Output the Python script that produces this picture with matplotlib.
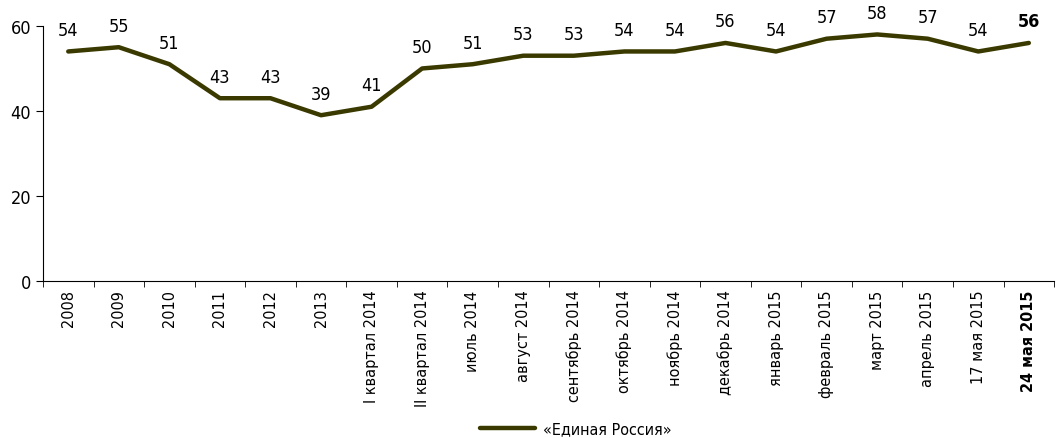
import matplotlib.pyplot as plt
import numpy as np

categories = ['2008', '2009', '2010', '2011', '2012', '2013',
              'I квартал 2014', 'II квартал 2014', 'июль 2014', 'август 2014',
              'сентябрь 2014', 'октябрь 2014', 'ноябрь 2014', 'декабрь 2014',
              'январь 2015', 'февраль 2015', 'март 2015', 'апрель 2015',
              '17 мая 2015', '24 мая 2015']
values = [54, 55, 51, 43, 43, 39, 41, 50, 51, 53, 53, 54, 54, 56, 54, 57, 58, 57, 54, 56]
series_name = '«Единая Россия»'

plt.rcParams['font.family'] = ['DejaVu Sans']
plt.rcParams['font.stretch'] = 'condensed'
color = '#3a3a00'

fig = plt.figure(figsize=(10.61, 4.39), dpi=100)
ax = fig.add_axes([0.0405, 0.3576, 0.953, 0.581])

x = np.arange(len(categories))
ax.plot(x, values, color=color, linewidth=3.2, solid_capstyle='round', label=series_name)

for i, v in enumerate(values):
    last = i == len(values) - 1
    ax.annotate(str(v), (i, v), xytext=(0, 9), textcoords='offset points',
                ha='center', va='bottom', fontsize=13,
                fontweight='bold' if last else 'normal')

ax.set_xlim(-0.5, len(categories) - 0.5)
ax.set_ylim(0, 60)
ax.set_yticks([0, 20, 40, 60])
ax.tick_params(axis='y', labelsize=13, length=5, direction='out')
ax.set_xticks(x)
ax.set_xticklabels(categories, rotation=90, fontsize=11.6)
ax.get_xticklabels()[-1].set_fontweight('bold')
ax.set_xticks(np.arange(-0.5, len(categories), 1), minor=True)
ax.tick_params(axis='x', which='major', length=0, pad=6)
ax.tick_params(axis='x', which='minor', length=4, direction='out')

for s in ['top', 'right']:
    ax.spines[s].set_visible(False)

ax.legend(loc='center', bbox_to_anchor=(0.527, -0.58), frameon=False,
          fontsize=11.5, handlelength=3.4, handletextpad=0.5, borderpad=0.1)

fig.savefig('out.png', dpi=100)
